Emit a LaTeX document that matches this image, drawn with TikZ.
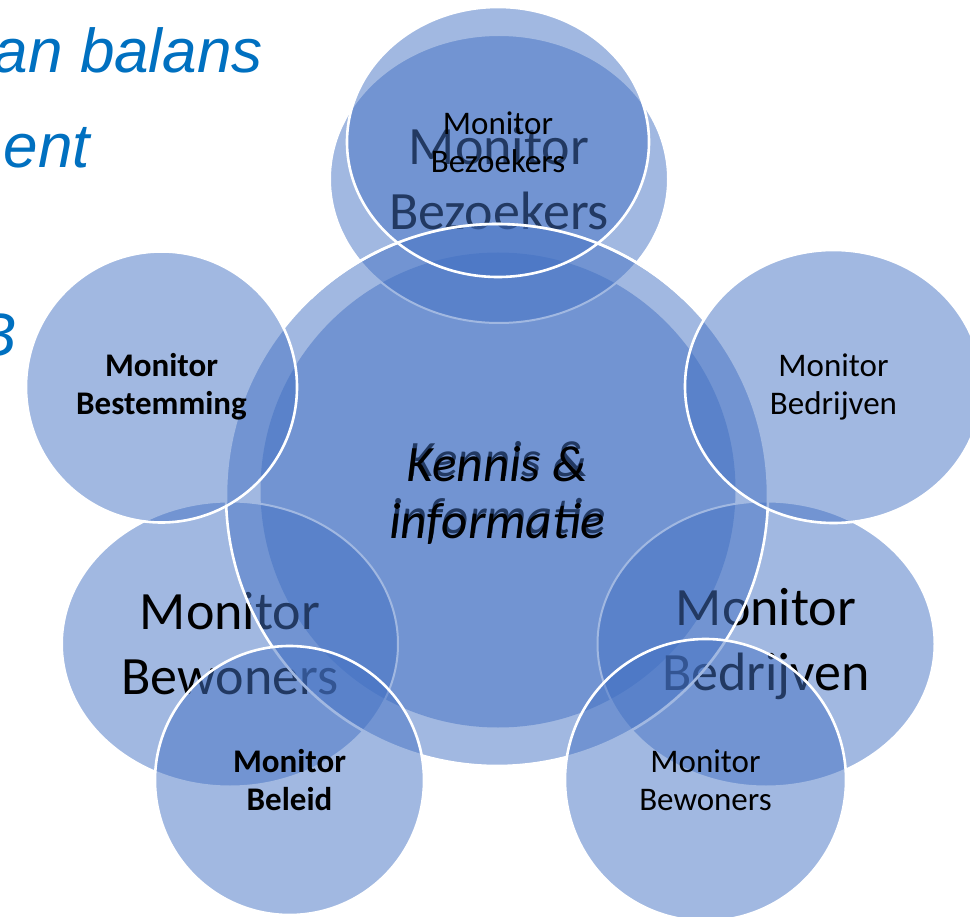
\documentclass[tikz,border=0pt]{standalone}
\usepackage{fontspec}
\setmainfont{Carlito}
\newfontfamily\arialfont{Liberation Sans}
\usetikzlibrary{shapes.geometric}
\definecolor{acc}{HTML}{4472C4}
\definecolor{titleblue}{HTML}{0070C0}
\begin{document}
\begin{tikzpicture}[x=1pt,y=-1pt,
  ashape/.style={ellipse, fill=acc, fill opacity=0.5, text opacity=1, draw=white, line width=2pt, inner sep=0pt, outer sep=0pt, align=center},
  bshape/.style={ellipse, fill=acc, fill opacity=0.5, text opacity=1, draw=white, line width=2.6pt, inner sep=0pt, outer sep=0pt, align=center},
  bigtxt/.style={font=\fontsize{54}{65}\selectfont},
  smalltxt/.style={font=\fontsize{33}{38}\selectfont},
  boldtxt/.style={font=\fontsize{33}{38}\selectfont\bfseries},
  coretxt/.style={font=\fontsize{51}{57}\selectfont\itshape},
  headtxt/.style={font=\arialfont\itshape\fontsize{62}{95}\selectfont, text=titleblue, inner sep=0pt, anchor=base east}
]
\useasboundingbox (0,0) rectangle (970,917);
\clip (0,0) rectangle (970,917);
\fill[white] (0,0) rectangle (970,917);

% left title fragments
\node[headtxt] (h1) at (263,73) {an balans};
\node[headtxt] (h2) at (90,168) {ent};
\node[headtxt] (h3) at (17,357) {B};

% layer A (big text)
\node[ashape, draw=none, coretxt, minimum width=475pt, minimum height=475pt] (acenter) at (498,490) {Kennis \&\\informatie};
\node[ashape, bigtxt, minimum width=338pt, minimum height=288pt] (abez) at (499,179) {Monitor\\Bezoekers};
\node[ashape, bigtxt, minimum width=336pt, minimum height=285pt] (abew) at (230,644) {Monitor\\Bewoners};
\node[ashape, bigtxt, minimum width=337pt, minimum height=285pt] (abed) at (766,644) {Monitor\\Bedrijven};

% layer B (small text, white rims)
\node[bshape, coretxt, minimum width=542pt, minimum height=542pt] (bcenter) at (497,495) {Kennis \&\\informatie};
\node[bshape, smalltxt, minimum width=302pt, minimum height=270pt] (bbez) at (498,142) {Monitor\\Bezoekers};
\node[bshape, boldtxt, minimum width=271pt, minimum height=271pt] (bbest) at (161.5,387) {Monitor\\Bestemming};
\node[bshape, smalltxt, minimum width=297pt, minimum height=273pt] (bbed) at (833.5,386.5) {Monitor\\Bedrijven};
\node[bshape, boldtxt, minimum width=269pt, minimum height=269pt] (bbel) at (289.5,780.5) {Monitor\\Beleid};
\node[bshape, smalltxt, minimum width=281pt, minimum height=282pt] (bbew) at (705.5,780) {Monitor\\Bewoners};

% rim of the centre circle shows on top of the upper circle
\begin{scope}
  \clip (0,0) rectangle (970,300);
  \draw[white, line width=2.6pt] (bcenter.center) circle[radius=271pt];
\end{scope}
\end{tikzpicture}
\end{document}
